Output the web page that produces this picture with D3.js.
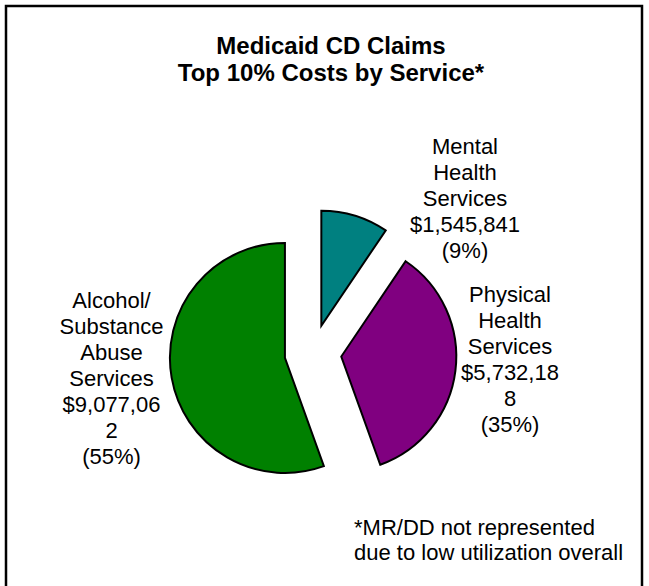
<!DOCTYPE html>
<html>
<head>
<meta charset="utf-8">
<script src="https://cdn.jsdelivr.net/npm/d3@7"></script>
<style>
  html, body { margin: 0; padding: 0; background: #fff; }
  svg { display: block; }
  text { font-family: "Liberation Sans", Arial, Helvetica, sans-serif; fill: #000; }
</style>
</head>
<body>
<svg id="chart" width="649" height="586"></svg>
<script>
// ---- data ----
const categories = ["Mental Health Services", "Physical Health Services", "Alcohol/ Substance Abuse Services"];
const values = [1545841, 5732188, 9077062];
const percentLabels = ["9%", "35%", "55%"];
const sliceColors = ["#008080", "#800080", "#008000"];
const titleLines = ["Medicaid CD Claims", "Top 10% Costs by Service*"];
const footnoteLines = ["*MR/DD not represented", "due to low utilization overall"];

// ---- layout ----
const W = 649, H = 586;
const svg = d3.select("#chart");
const cx = 313, cy = 353, R = 115, explode = 28.5;
const labelFont = 22, labelLH = 26;
// label anchors per slice (center x, first baseline) and char wrap limits
const labelPos = [
  { x: 465, y: 154, maxChars: 10 },
  { x: 510, y: 302, maxChars: 9 },
  { x: 111.5, y: 308, maxChars: 9 }
];

// frame
svg.append("rect")
  .attr("x", 6).attr("y", 6)
  .attr("width", 636).attr("height", 640)
  .attr("fill", "none").attr("stroke", "#000").attr("stroke-width", 2.5);

// title
svg.append("g").selectAll("text").data(titleLines).join("text")
  .attr("x", 331).attr("y", (d, i) => 53.5 + i * 27.5)
  .attr("text-anchor", "middle")
  .style("font-size", "24px").style("font-weight", "bold")
  .text(d => d);

// pie
const pie = d3.pie().sort(null).value(d => d).startAngle(0).endAngle(2 * Math.PI);
const arcs = pie(values);
const arcGen = d3.arc().innerRadius(0).outerRadius(R);

const g = svg.append("g").attr("transform", `translate(${cx},${cy})`);
g.selectAll("path").data(arcs).join("path")
  .attr("d", arcGen)
  .attr("transform", d => {
    const m = (d.startAngle + d.endAngle) / 2;
    return `translate(${explode * Math.sin(m)},${-explode * Math.cos(m)})`;
  })
  .attr("fill", (d, i) => sliceColors[i])
  .attr("stroke", "#000")
  .attr("stroke-width", 2)
  .attr("stroke-linejoin", "miter");

// labels
const fmt = d3.format("$,");
function charWrap(s, n) {
  const out = [];
  for (let i = 0; i < s.length; i += n) out.push(s.slice(i, i + n));
  return out;
}
categories.forEach((c, i) => {
  const lines = c.split(" ")
    .concat(charWrap(fmt(values[i]), labelPos[i].maxChars))
    .concat(["(" + percentLabels[i] + ")"]);
  svg.append("g").selectAll("text").data(lines).join("text")
    .attr("x", labelPos[i].x)
    .attr("y", (d, j) => labelPos[i].y + j * labelLH)
    .attr("text-anchor", "middle")
    .style("font-size", labelFont + "px")
    .text(d => d);
});

// footnote
svg.append("g").selectAll("text").data(footnoteLines).join("text")
  .attr("x", 354).attr("y", (d, i) => 535 + i * 24.5)
  .style("font-size", labelFont + "px")
  .text(d => d);
</script>
</body>
</html>
